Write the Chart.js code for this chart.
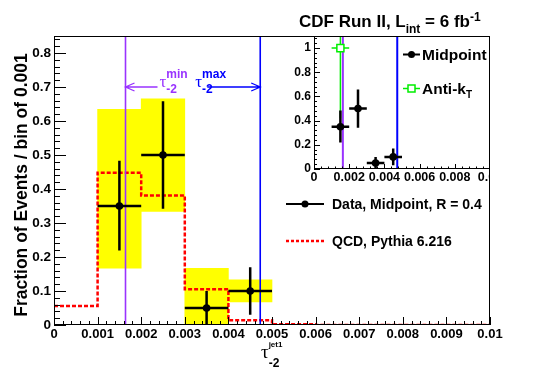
<!DOCTYPE html>
<html>
<head>
<meta charset="utf-8">
<script src="https://cdn.jsdelivr.net/npm/chart.js@4.4.0/dist/chart.umd.min.js"></script>
<style>
body { margin: 0; background: #fff; }
#caja { position: relative; width: 545px; height: 369px; }
#principal { position: absolute; left: 0; top: 0; }
#marcoRecuadro { position: absolute; left: 270px; top: 0; width: 220px; height: 200px; overflow: hidden; }
#recuadro { position: absolute; left: 0; top: 0; }
</style>
</head>
<body>
<div id="caja">
<canvas id="principal" width="545" height="369"></canvas>
<div id="marcoRecuadro"><canvas id="recuadro" width="260" height="200"></canvas></div>
</div>
<script>
// datos
const binCenters = [0.0015, 0.0025, 0.0035, 0.0045];
const binHalf = 0.0005;
const dataMid = [0.35, 0.50, 0.05, 0.10];
const statLow = [0.219, 0.342, 0.0, 0.03];
const statHigh = [0.483, 0.658, 0.10, 0.17];
const systLow = [0.167, 0.334, 0.0, 0.068];
const systHigh = [0.634, 0.665, 0.167, 0.133];

const qcdEdges = [0, 0.001, 0.002, 0.003, 0.004, 0.005, 0.006, 0.007, 0.008, 0.009, 0.01];
const qcdValues = [0.056, 0.448, 0.381, 0.105, 0.014, 0.002, 0, 0, 0, 0];

const antiKtX = [0.0015];
const antiKtY = [1.0];
const antiKtLow = [0.42];
const antiKtHigh = [1.6];

const tauMin = 0.00164;
const tauMax = 0.00473;
const arrowLevel = 0.7;

// ejes
const xTicksMain = [0, 0.001, 0.002, 0.003, 0.004, 0.005, 0.006, 0.007, 0.008, 0.009, 0.01];
const xLabelsMain = ['0', '0.001', '0.002', '0.003', '0.004', '0.005', '0.006', '0.007', '0.008', '0.009', '0.01'];
const yTicksMain = [0, 0.1, 0.2, 0.3, 0.4, 0.5, 0.6, 0.7, 0.8];
const yLabelsMain = ['0', '0.1', '0.2', '0.3', '0.4', '0.5', '0.6', '0.7', '0.8'];
const xTicksInset = [0, 0.002, 0.004, 0.006, 0.008, 0.01];
const xLabelsInset = ['0', '0.002', '0.004', '0.006', '0.008', '0.01'];
const yTicksInset = [0, 0.2, 0.4, 0.6, 0.8, 1];
const yLabelsInset = ['0', '0.2', '0.4', '0.6', '0.8', '1'];

var fuente = '"Liberation Sans", Arial, Helvetica, sans-serif';
var colorMin = '#9933ff';
var colorMax = '#0000ff';
var colorAntiKt = '#00ee00';

function menores(paso, max) {
	var v = [];
	for (var i = 0; i * paso <= max + 1e-12; i++) v.push(i * paso);
	return v;
}

function barrasError(xs, ys, lo, hi) {
	var pts = [];
	for (var i = 0; i < xs.length; i++) {
		pts.push({x: xs[i] - binHalf, y: ys[i]}, {x: xs[i] + binHalf, y: ys[i]}, {x: xs[i], y: null});
		pts.push({x: xs[i], y: lo[i]}, {x: xs[i], y: hi[i]}, {x: xs[i], y: null});
	}
	return pts;
}

function puntos(xs, ys) {
	return xs.map(function(x, i) { return {x: x, y: ys[i]}; });
}

function histograma(edges, vals) {
	var pts = [];
	for (var i = 0; i < vals.length; i++) pts.push({x: edges[i], y: vals[i]});
	pts.push({x: edges[edges.length - 1], y: vals[vals.length - 1]});
	return pts;
}

function vertical(x, top) {
	return [{x: x, y: 0}, {x: x, y: top}];
}

function escribe(ctx, partes, x, y, color) {
	ctx.fillStyle = color;
	ctx.textAlign = 'left';
	ctx.textBaseline = 'alphabetic';
	partes.forEach(function(p) {
		ctx.font = 'bold ' + p[1] + 'px ' + fuente;
		ctx.fillText(p[0], x, y + p[2]);
		x += ctx.measureText(p[0]).width;
	});
	return x;
}

function tau(ctx, x, y, size, sup, supDy, sub, subDy, small, color) {
	ctx.fillStyle = color;
	ctx.textAlign = 'left';
	ctx.textBaseline = 'alphabetic';
	ctx.font = size + 'px "Liberation Serif", "DejaVu Serif", serif';
	ctx.fillText('\u03c4', x, y);
	var x1 = x + ctx.measureText('\u03c4').width;
	if (sup) {
		ctx.font = 'bold ' + small[0] + 'px ' + fuente;
		ctx.fillText(sup, x1, y + supDy);
	}
	if (sub) {
		ctx.font = 'bold ' + small[1] + 'px ' + fuente;
		ctx.fillText(sub, x1, y + subDy);
	}
}

function flecha(ctx, xa, xb, y, dir, color) {
	ctx.strokeStyle = color;
	ctx.lineWidth = 1.3;
	ctx.beginPath();
	ctx.moveTo(xa, y);
	ctx.lineTo(xb, y);
	var punta = dir < 0 ? xa : xb;
	ctx.moveTo(punta - dir * 9, y - 4);
	ctx.lineTo(punta, y);
	ctx.lineTo(punta - dir * 9, y + 4);
	ctx.stroke();
}

// marco, fondo y marcas de los ejes hacia dentro (estilo ROOT)
function marco(cfg) {
	return {
		id: 'marco',
		beforeDraw: function(chart) {
			if (!cfg.fondo) return;
			var a = chart.chartArea, ctx = chart.ctx;
			ctx.save();
			ctx.fillStyle = '#fff';
			ctx.fillRect(a.left, a.top, a.right - a.left, a.bottom - a.top);
			ctx.restore();
		},
		afterDatasetsDraw: function(chart) {
			var ctx = chart.ctx, a = chart.chartArea;
			var sx = chart.scales.x, sy = chart.scales.y;
			ctx.save();
			ctx.strokeStyle = '#000';
			ctx.lineWidth = 1;
			ctx.beginPath();
			cfg.xMenor.forEach(function(v) {
				var p = Math.round(sx.getPixelForValue(v)) + 0.5;
				ctx.moveTo(p, a.bottom); ctx.lineTo(p, a.bottom - cfg.largoX / 2);
			});
			cfg.xMayor.forEach(function(v) {
				var p = Math.round(sx.getPixelForValue(v)) + 0.5;
				ctx.moveTo(p, a.bottom); ctx.lineTo(p, a.bottom - cfg.largoX);
			});
			cfg.yMenor.forEach(function(v) {
				var p = Math.round(sy.getPixelForValue(v)) + 0.5;
				ctx.moveTo(a.left, p); ctx.lineTo(a.left + cfg.largoY / 2, p);
			});
			cfg.yMayor.forEach(function(v) {
				var p = Math.round(sy.getPixelForValue(v)) + 0.5;
				ctx.moveTo(a.left, p); ctx.lineTo(a.left + cfg.largoY, p);
			});
			ctx.stroke();
			ctx.strokeRect(a.left + 0.5, a.top + 0.5, a.right - a.left - 1, a.bottom - a.top - 1);
			ctx.restore();
		}
	};
}

var textosPrincipal = {
	id: 'textosPrincipal',
	afterDraw: function(chart) {
		var ctx = chart.ctx, sx = chart.scales.x, sy = chart.scales.y;
		ctx.save();
		// titulo
		escribe(ctx, [['CDF Run II, L', 17, 0], ['int', 12, 6], [' = 6 fb', 17, 0], ['-1', 12, -6]], 299, 27, '#000');

		// titulo eje y
		ctx.save();
		ctx.translate(27, 185);
		ctx.rotate(-Math.PI / 2);
		ctx.fillStyle = '#000';
		ctx.font = 'bold 17.5px ' + fuente;
		ctx.textAlign = 'center';
		ctx.fillText('Fraction of Events / bin of 0.001', 0, 0);
		ctx.restore();

		// titulo eje x
		tau(ctx, 261, 358, 19, 'jet1', -11, '-2', 9, [8, 12], '#000');

		// flechas tau min / tau max
		var yf = sy.getPixelForValue(arrowLevel);
		var p1 = sx.getPixelForValue(tauMin);
		var p2 = sx.getPixelForValue(tauMax);
		flecha(ctx, p1, p1 + 32, yf, -1, colorMin);
		flecha(ctx, p2 - 53, p2, yf, 1, colorMax);
		tau(ctx, p1 + 34, yf, 17, 'min', -9, '-2', 6, [12, 12], colorMin);
		tau(ctx, p2 - 65, yf, 17, 'max', -9, '-2', 6, [12, 12], colorMax);

		// leyenda
		ctx.strokeStyle = '#000';
		ctx.lineWidth = 2;
		ctx.beginPath();
		ctx.moveTo(286, 204); ctx.lineTo(324, 204);
		ctx.stroke();
		ctx.fillStyle = '#000';
		ctx.beginPath();
		ctx.arc(305, 204, 3.5, 0, Math.PI * 2);
		ctx.fill();
		escribe(ctx, [['Data, Midpoint, R = 0.4', 14, 0]], 332, 209, '#000');

		ctx.strokeStyle = '#ff0000';
		ctx.lineWidth = 2.5;
		ctx.setLineDash([3, 2]);
		ctx.beginPath();
		ctx.moveTo(286, 241); ctx.lineTo(324, 241);
		ctx.stroke();
		ctx.setLineDash([]);
		escribe(ctx, [['QCD, Pythia 6.216', 14, 0]], 332, 246, '#000');
		ctx.restore();
	}
};

var textosRecuadro = {
	id: 'textosRecuadro',
	afterDraw: function(chart) {
		var ctx = chart.ctx;
		ctx.save();
		// Midpoint
		ctx.strokeStyle = '#000';
		ctx.lineWidth = 2;
		ctx.beginPath();
		ctx.moveTo(133, 54.5); ctx.lineTo(150, 54.5);
		ctx.stroke();
		ctx.fillStyle = '#000';
		ctx.beginPath();
		ctx.arc(141.5, 54.5, 3.5, 0, Math.PI * 2);
		ctx.fill();
		escribe(ctx, [['Midpoint', 15.5, 0]], 152, 60, '#000');
		// Anti-kT
		ctx.strokeStyle = colorAntiKt;
		ctx.lineWidth = 1.5;
		ctx.beginPath();
		ctx.moveTo(133, 88.5); ctx.lineTo(150, 88.5);
		ctx.stroke();
		ctx.fillStyle = '#fff';
		ctx.fillRect(138, 85, 7, 7);
		ctx.strokeRect(138, 85, 7, 7);
		escribe(ctx, [['Anti-k', 15.5, 0], ['T', 10, 4]], 152, 94, '#000');
		ctx.restore();
	}
};

function opcionesEje(ticks, labels, min, max, size, pad, esX, tam) {
	return {
		type: 'linear', min: min, max: max, offset: false,
		grid: {display: false, drawTicks: false},
		border: {display: false},
		afterBuildTicks: function(s) { s.ticks = ticks.map(function(v) { return {value: v}; }); },
		afterFit: function(s) {
			if (esX) s.height = tam; else s.width = tam;
			s.paddingLeft = 0; s.paddingRight = 0; s.paddingTop = 0; s.paddingBottom = 0;
		},
		ticks: {
			autoSkip: false, maxRotation: 0, minRotation: 0, padding: pad, color: '#000',
			font: {family: fuente, size: size, weight: 'bold'},
			callback: function(v, i) { return labels[i]; }
		}
	};
}

// grafica principal
new Chart(document.getElementById('principal'), {
	type: 'bar',
	data: {
		datasets: [
			{
				type: 'line', data: puntos(binCenters, dataMid), showLine: false,
				pointRadius: 3.8, pointBackgroundColor: '#000', pointBorderColor: '#000', pointBorderWidth: 0, order: 1
			},
			{
				type: 'line', data: barrasError(binCenters, dataMid, statLow, statHigh),
				borderColor: '#000', borderWidth: 2.5, pointRadius: 0, spanGaps: false, order: 2
			},
			{
				type: 'line', data: vertical(tauMin, 0.85), borderColor: colorMin, borderWidth: 1.6, pointRadius: 0, order: 3
			},
			{
				type: 'line', data: vertical(tauMax, 0.85), borderColor: colorMax, borderWidth: 1.6, pointRadius: 0, order: 3
			},
			{
				type: 'line', data: histograma(qcdEdges, qcdValues), stepped: 'before',
				borderColor: '#ff0000', borderWidth: 2.5, borderDash: [4, 2], pointRadius: 0, fill: false, order: 4
			},
			{
				type: 'bar', data: binCenters.map(function(c, i) { return {x: c, y: [systLow[i], systHigh[i]]}; }),
				backgroundColor: '#ffff00', borderWidth: 0, barPercentage: 1, categoryPercentage: 1, order: 6
			}
		]
	},
	options: {
		responsive: false, animation: false, devicePixelRatio: 1,
		layout: {padding: {left: 0, top: 36, right: 55, bottom: 0}},
		plugins: {legend: {display: false}, tooltip: {enabled: false}},
		scales: {
			x: opcionesEje(xTicksMain, xLabelsMain, 0, 0.01, 13, 2, true, 44),
			y: opcionesEje(yTicksMain, yLabelsMain, 0, 0.85, 13.5, 3, false, 54)
		}
	},
	plugins: [marco({xMayor: xTicksMain, xMenor: menores(0.0002, 0.01), yMayor: yTicksMain, yMenor: menores(0.02, 0.85),
		largoX: 8, largoY: 12}), textosPrincipal]
});

// recuadro con Midpoint y Anti-kT
new Chart(document.getElementById('recuadro'), {
	type: 'line',
	data: {
		datasets: [
			{
				data: puntos(binCenters, dataMid), showLine: false,
				pointRadius: 3.8, pointBackgroundColor: '#000', pointBorderColor: '#000', pointBorderWidth: 0, order: 1
			},
			{
				data: barrasError(binCenters, dataMid, statLow, statHigh),
				borderColor: '#000', borderWidth: 2.5, pointRadius: 0, spanGaps: false, order: 2
			},
			{
				data: puntos(antiKtX, antiKtY), showLine: false, pointStyle: 'rect',
				pointRadius: 5, pointBackgroundColor: '#fff', pointBorderColor: colorAntiKt, pointBorderWidth: 1.5, order: 3
			},
			{
				data: barrasError(antiKtX, antiKtY, antiKtLow, antiKtHigh),
				borderColor: colorAntiKt, borderWidth: 1.5, pointRadius: 0, spanGaps: false, order: 4
			},
			{
				data: vertical(tauMin, 1.1), borderColor: colorMin, borderWidth: 2, pointRadius: 0, order: 5
			},
			{
				data: vertical(tauMax, 1.1), borderColor: colorMax, borderWidth: 2, pointRadius: 0, order: 5
			}
		]
	},
	options: {
		responsive: false, animation: false, devicePixelRatio: 1,
		layout: {padding: {left: 0, top: 36, right: 40, bottom: 0}},
		plugins: {legend: {display: false}, tooltip: {enabled: false}},
		scales: {
			x: opcionesEje(xTicksInset, xLabelsInset, 0, 0.01, 12.5, 1, true, 31),
			y: opcionesEje(yTicksInset, yLabelsInset, 0, 1.1, 12, 3, false, 44)
		}
	},
	plugins: [marco({fondo: true, xMayor: xTicksInset, xMenor: menores(0.0004, 0.01), yMayor: yTicksInset, yMenor: menores(0.04, 1.1),
		largoX: 5, largoY: 6}), textosRecuadro]
});
</script>
</body>
</html>
